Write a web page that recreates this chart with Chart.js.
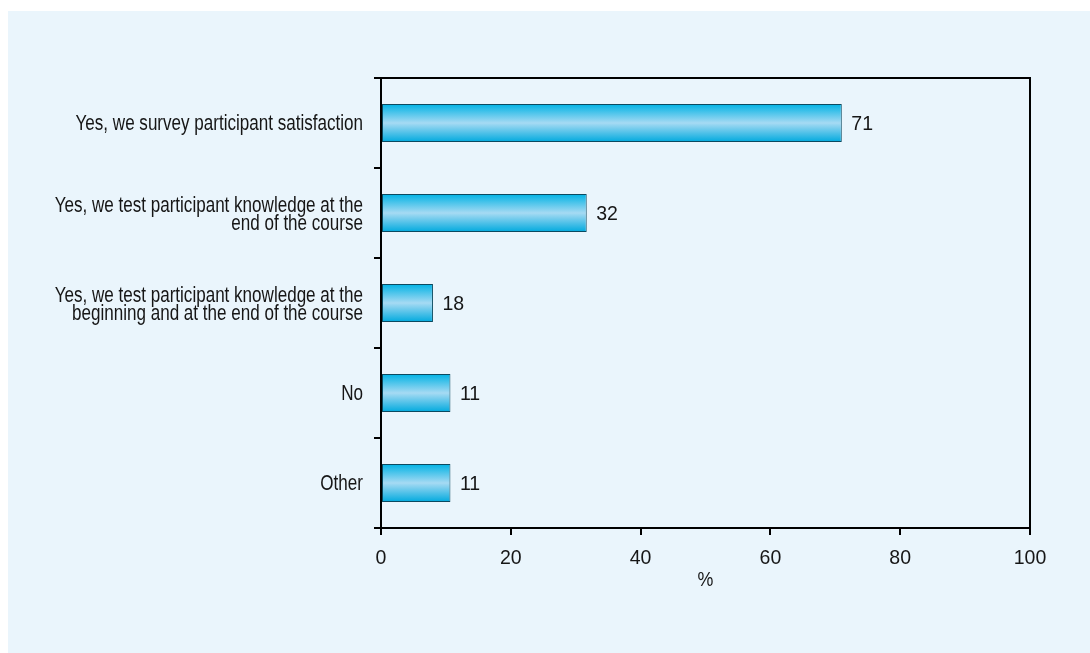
<!DOCTYPE html>
<html>
<head>
<meta charset="utf-8">
<script src="https://cdn.jsdelivr.net/npm/chart.js@4/dist/chart.umd.min.js"></script>
<style>
  body { margin: 0; background: #fff; }
</style>
</head>
<body>
<canvas id="chart" width="1090" height="653"></canvas>
<script>
"use strict";
const categories = [
    "Yes, we survey participant satisfaction",
    ["Yes, we test participant knowledge at the", "end of the course"],
    ["Yes, we test participant knowledge at the", "beginning and at the end of the course"],
    "No",
    "Other"
];
// bar lengths as drawn in the picture
const barValues = [71, 31.7, 8, 10.7, 10.7];
// numbers printed next to the bars
const barLabels = ["71", "32", "18", "11", "11"];
const xTicks = [0, 20, 40, 60, 80, 100];
const xTitle = "%";

const sans = "'Liberation Sans', Arial, Helvetica, sans-serif";
const textColor = "#161616";

const panelBg = {
    id: "panelBg",
    beforeDraw(chart) {
        const c = chart.ctx;
        c.save();
        c.fillStyle = "#ffffff";
        c.fillRect(0, 0, chart.width, chart.height);
        c.fillStyle = "#eaf5fc";
        c.fillRect(8, 11, chart.width - 8, chart.height - 11);
        c.restore();
    }
};

const frame = {
    id: "frame",
    afterDraw(chart) {
        const a = chart.chartArea;
        const c = chart.ctx;
        c.save();
        c.strokeStyle = "#000";
        c.lineWidth = 2;
        c.beginPath();
        c.moveTo(a.left, a.top);
        c.lineTo(a.right, a.top);
        c.lineTo(a.right, a.bottom);
        c.stroke();
        c.restore();
    }
};

// squeezed text, since no condensed Helvetica is installed
function squeezed(c, text, x, y, sx) {
    c.save();
    c.translate(x, y);
    c.scale(sx, 1);
    c.fillText(text, 0, 0);
    c.restore();
}

const axisText = {
    id: "axisText",
    afterDraw(chart) {
        const c = chart.ctx;
        const ys = chart.scales.y;
        const xs = chart.scales.x;
        c.save();
        c.fillStyle = textColor;
        c.textBaseline = "alphabetic";
        c.font = "22px " + sans;
        c.textAlign = "right";
        categories.forEach((lab, i) => {
            const lines = Array.isArray(lab) ? lab : [lab];
            const cy = ys.getPixelForTick(i);
            const first = lines.length === 1 ? cy + 6.5 : cy - 1.3;
            lines.forEach((ln, j) => {
                squeezed(c, ln, ys.right - 18, first + j * 18.3, 0.775);
            });
        });
        c.font = "21px " + sans;
        c.textAlign = "center";
        xTicks.forEach(v => {
            squeezed(c, String(v), xs.getPixelForValue(v), xs.top + 35.5, 0.93);
        });
        squeezed(c, xTitle, (xs.left + xs.right) / 2, xs.top + 57.5, 0.85);
        c.restore();
    }
};

const valueLabels = {
    id: "valueLabels",
    afterDatasetsDraw(chart) {
        const c = chart.ctx;
        const meta = chart.getDatasetMeta(0);
        c.save();
        c.font = "21px " + sans;
        c.fillStyle = textColor;
        c.textAlign = "left";
        c.textBaseline = "alphabetic";
        meta.data.forEach((bar, i) => {
            squeezed(c, barLabels[i], bar.x + 9.5, bar.y + 7, 0.93);
        });
        c.restore();
    }
};

function barGradient(context) {
    const chart = context.chart;
    const y = chart.scales.y;
    if (!chart.chartArea || !y) return "#00b2e4";
    const mid = y.getPixelForValue(context.dataIndex);
    const g = chart.ctx.createLinearGradient(0, mid - 19, 0, mid + 19);
    g.addColorStop(0, "#00b2e4");
    g.addColorStop(0.5, "#a6daf3");
    g.addColorStop(1, "#00aade");
    return g;
}

new Chart(document.getElementById("chart").getContext("2d"), {
    type: "bar",
    data: {
        labels: categories,
        datasets: [{
            data: barValues,
            backgroundColor: barGradient,
            borderColor: "#0b4a60",
            borderWidth: 1,
            borderSkipped: false,
            barPercentage: 0.42,
            categoryPercentage: 1
        }]
    },
    options: {
        indexAxis: "y",
        responsive: false,
        animation: false,
        layout: { padding: { left: 0, top: 78, right: 60, bottom: 0 } },
        plugins: {
            legend: { display: false },
            tooltip: { enabled: false }
        },
        scales: {
            x: {
                min: 0,
                max: 100,
                afterBuildTicks: (axis) => axis.ticks = xTicks.map(v => ({ value: v })),
                afterFit: (scale) => { scale.height = 125; },
                grid: { drawOnChartArea: false, drawTicks: true, tickLength: 7, color: "#000", lineWidth: 2 },
                border: { display: true, color: "#000", width: 2 },
                ticks: { display: false }
            },
            y: {
                afterFit: (scale) => { scale.width = 381; },
                grid: { drawOnChartArea: false, drawTicks: true, tickLength: 7, color: "#000", lineWidth: 2, offset: true },
                border: { display: true, color: "#000", width: 2 },
                ticks: { display: false }
            }
        }
    },
    plugins: [panelBg, frame, axisText, valueLabels]
});
</script>
</body>
</html>
